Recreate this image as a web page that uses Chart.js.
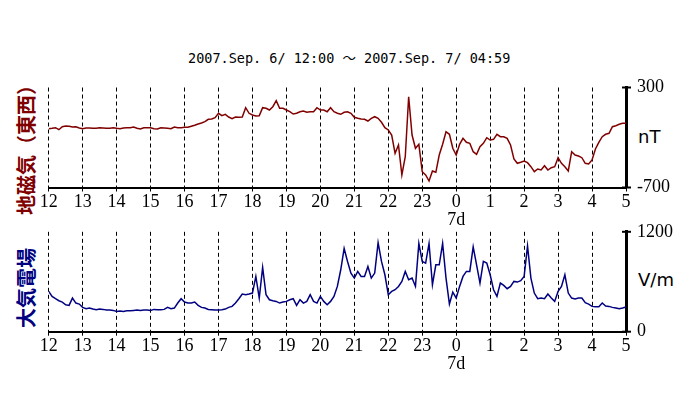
<!DOCTYPE html>
<html>
<head>
<meta charset="utf-8">
<script src="https://cdn.jsdelivr.net/npm/chart.js@4.4.1/dist/chart.umd.min.js"></script>
<style>
  body { margin: 0; background: #fff; }
  #wrap { position: relative; width: 692px; height: 396px; background: #fff; overflow: hidden; }
  canvas { position: absolute; left: 0; }
  .lbl { position: absolute; white-space: nowrap; }
  #title { left: 188px; top: 47px; font: 13.5px "DejaVu Sans Mono", "Noto Sans CJK JP", monospace; color: #000; }
  .ylab { font: bold 20px "Noto Sans CJK JP", sans-serif; transform: translate(-50%, -50%) rotate(-90deg); line-height: 1; }
  .unit { font: 18px "DejaVu Sans", sans-serif; color: #000; }
</style>
</head>
<body>
<div id="wrap">
  <div id="title" class="lbl">2007.Sep. 6/ 12:00 ～ 2007.Sep. 7/ 04:59</div>
  <div class="lbl ylab" style="left:26px;top:145px;color:#800000">地磁気（東西）</div>
  <div class="lbl ylab" style="left:26px;top:288px;color:#000080">大気電場</div>
  <div class="lbl unit" style="left:638px;top:126px">nT</div>
  <div class="lbl unit" style="left:638px;top:269px">V/m</div>
  <canvas id="c1" width="692" height="235" style="top:0"></canvas>
  <canvas id="c2" width="692" height="186" style="top:210px"></canvas>
</div>
<script>
// hour labels along the x axis (12:00 on the 6th to 05:00 on the 7th)
const hourTicks = [12, 13, 14, 15, 16, 17, 18, 19, 20, 21, 22, 23, 0, 1, 2, 3, 4, 5];
const stepMin = 6; // one reading every 6 minutes

// geomagnetic field, east-west component (nT)
const magEW = [
  -112, -108, -102, -122, -92, -85, -88, -95, -92, -105,
  -112, -105, -105, -108, -108, -102, -105, -108, -108, -102,
  -108, -112, -105, -102, -102, -95, -108, -115, -102, -102,
  -102, -112, -115, -102, -105, -108, -112, -95, -102, -102,
  -98, -98, -88, -78, -65, -55, -42, -18, -15, -2,
  42, 18, 32, 5, -12, 5, 2, 5, 98, 42,
  25, 15, 18, 98, 92, 75, 108, 168, 92, 92,
  75, 58, 35, 42, 58, 65, 52, 58, 58, 98,
  75, 75, 58, 98, 58, 42, 32, 52, 58, 42,
  2, -8, -15, -18, -35, -8, 8, -8, -48, -102,
  -125, -175, -358, -275, -575, -392, 208, -175, -308, -268,
  -542, -575, -635, -535, -548, -375, -268, -142, -168, -308,
  -375, -268, -208, -248, -258, -342, -368, -292, -258, -202,
  -225, -218, -168, -192, -192, -208, -275, -415, -458, -448,
  -435, -452, -492, -542, -515, -525, -482, -525, -502, -492,
  -402, -458, -492, -535, -342, -375, -385, -402, -458, -465,
  -425, -315, -248, -192, -168, -158, -92, -82, -68, -58,
  -58
];

// atmospheric electric field (V/m)
const efield = [
  484, 424, 396, 372, 356, 324, 316, 404, 344, 332,
  292, 276, 284, 272, 264, 272, 268, 260, 260, 256,
  244, 248, 244, 252, 252, 256, 260, 256, 260, 260,
  256, 268, 264, 264, 268, 292, 276, 284, 344, 396,
  356, 344, 344, 356, 316, 292, 284, 268, 264, 260,
  260, 264, 272, 292, 304, 344, 396, 452, 444, 452,
  464, 664, 404, 772, 444, 384, 372, 364, 344, 356,
  364, 384, 396, 316, 384, 344, 364, 444, 364, 344,
  424, 364, 324, 364, 424, 544, 744, 1000, 844, 704,
  644, 724, 664, 664, 784, 644, 704, 1070, 844, 684,
  444, 484, 504, 544, 604, 724, 624, 644, 544, 1060,
  844, 824, 1060, 564, 804, 804, 1060, 644, 332, 476,
  404, 544, 664, 724, 724, 1020, 804, 584, 844, 824,
  684, 504, 424, 584, 556, 516, 544, 604, 596, 612,
  664, 1030, 644, 464, 396, 404, 396, 452, 404, 364,
  484, 544, 684, 464, 404, 392, 404, 404, 348, 332,
  304, 300, 300, 344, 308, 304, 292, 284, 276, 284,
  296
];

const magRange = [-700, 300];
const efRange = [0, 1200];

function toPoints(arr) {
  return arr.map((v, i) => ({ x: i * stepMin, y: v }));
}

// T-shaped caps on the right axis
const capPlugin = {
  id: 'caps',
  afterDraw(chart) {
    const s = chart.scales.y;
    const ctx = chart.ctx;
    ctx.save();
    ctx.strokeStyle = '#000';
    ctx.lineWidth = 2;
    [s.top, s.bottom].forEach(y => {
      ctx.beginPath();
      ctx.moveTo(s.left - 4, y);
      ctx.lineTo(s.left + 5, y);
      ctx.stroke();
    });
    ctx.restore();
  }
};

function makeChart(id, data, color, range, padTop, xHeight) {
  const lastMin = (hourTicks.length - 1) * 60;
  return new Chart(document.getElementById(id), {
    type: 'line',
    data: {
      datasets: [{
        data: toPoints(data),
        borderColor: color,
        borderWidth: 1.5,
        pointRadius: 0,
        tension: 0
      }]
    },
    options: {
      responsive: false,
      animation: false,
      devicePixelRatio: 1,
      layout: { padding: { left: 48.7, top: padTop, right: 0, bottom: 0 } },
      plugins: { legend: { display: false }, tooltip: { enabled: false } },
      scales: {
        x: {
          type: 'linear',
          min: 0,
          max: lastMin,
          afterBuildTicks: s => { s.ticks = hourTicks.map((h, i) => ({ value: i * 60 })); },
          afterFit: s => { s.height = xHeight; },
          ticks: {
            maxRotation: 0,
            autoSkip: false,
            padding: 1.5,
            color: '#000',
            font: { family: 'Liberation Serif', size: 18, lineHeight: 1 },
            callback: (v) => {
              const h = hourTicks[Math.round(v / 60)];
              return h === 0 ? ['0', '7d'] : String(h);
            }
          },
          grid: {
            color: ctx => (ctx.tick && ctx.tick.value === lastMin) ? 'rgba(0,0,0,0)' : '#000',
            lineWidth: 1,
            borderDash: [4, 3],
            tickLength: 4,
            tickColor: '#000',
            tickBorderDash: []
          },
          border: { display: true, color: '#000', width: 2, dash: [4, 3] }
        },
        y: {
          position: 'right',
          min: range[0],
          max: range[1],
          afterBuildTicks: s => { s.ticks = [{ value: range[0] }, { value: range[1] }]; },
          afterFit: s => { s.width = 66; },
          ticks: {
            padding: 11,
            color: '#000',
            font: { family: 'Liberation Serif', size: 18 },
            callback: v => String(v)
          },
          grid: { display: false, drawTicks: false },
          border: { display: true, color: '#000', width: 3 }
        }
      }
    },
    plugins: [capPlugin]
  });
}

makeChart('c1', magEW, '#800000', magRange, 87.5, 235 - 187.5);
makeChart('c2', efield, '#000080', efRange, 21.7, 186 - 121.7);
</script>
</body>
</html>
